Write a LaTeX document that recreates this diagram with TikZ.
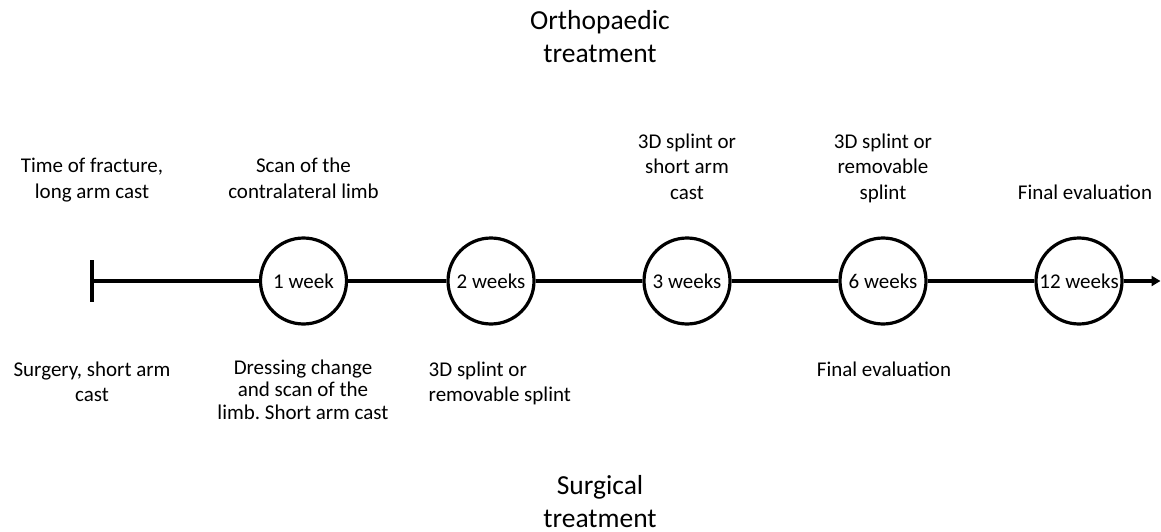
\documentclass[tikz,border=0pt]{standalone}
\usepackage{fontspec}
\setmainfont{Carlito}
\usetikzlibrary{positioning,arrows.meta}
\tikzset{
  week/.style ={circle, draw, line width=3.2pt, minimum size=86pt, inner sep=0pt,
                fill=white, font=\fontsize{21}{25.5}\selectfont},
  lbl/.style  ={align=center, inner sep=0pt, anchor=base, font=\fontsize{21}{25.5}\selectfont},
  ttl/.style  ={lbl, font=\fontsize{27.5}{33}\selectfont},
  tl/.style   ={line width=3.2pt},
  tick/.style ={line width=4pt},
  arr/.style  ={tl, -{Triangle[length=9pt, width=10pt]}},
}

\begin{document}
\begin{tikzpicture}[x=1pt, y=-1pt]
\useasboundingbox (0,0) rectangle (1161,532);

\node[ttl] (orth) at (600,63) {Orthopaedic\\ treatment};
\node[ttl] (surg) at (600,527) {Surgical\\ treatment};

% time line
\coordinate (t0) at (92,281);
\node[week] (w1)  at (303.5,281) {1 week};
\node[week] (w2)  at (491,281)   {2 weeks};
\node[week] (w3)  at (687,281)   {3 weeks};
\node[week] (w6)  at (883,281)   {6 weeks};
\node[week] (w12) at (1079,281)  {12 weeks};
\coordinate (tend) at (1160.5,281);

% orthopaedic
\node[lbl] (oFrac)  at (92,198)    {Time of fracture,\\ long arm cast};
\node[lbl] (oScan)  at (303.5,198) {Scan of the\\ contralateral limb};
\node[lbl] (oCast)  at (687,199)   {3D splint or\\ short arm\\ cast};
\node[lbl] (oSplnt) at (883,199)   {3D splint or\\ removable\\ splint};
\node[lbl] (oEval)  at (1085,199)  {Final evaluation};

% surgical
\node[lbl] (sSurg)  at (92,401.5)  {Surgery, short arm\\ cast};
\node[lbl, font=\fontsize{21}{22.5}\selectfont] (sDress) at (303,419)
   {Dressing change\\ and scan of the\\ limb.\ Short arm cast};
\node[lbl, align=left, anchor=base west] (sSplnt) at (428.5,401.5)
   {3D splint or\\ removable splint};
\node[lbl] (sEval)  at (884,376)   {Final evaluation};

\draw[tick] (t0) +(0,-21) -- +(0,21);
\draw[tl] (t0) -- (w1) -- (w2) -- (w3) -- (w6) -- (w12);
\draw[arr] (w12) -- (tend);
\end{tikzpicture}
\end{document}
